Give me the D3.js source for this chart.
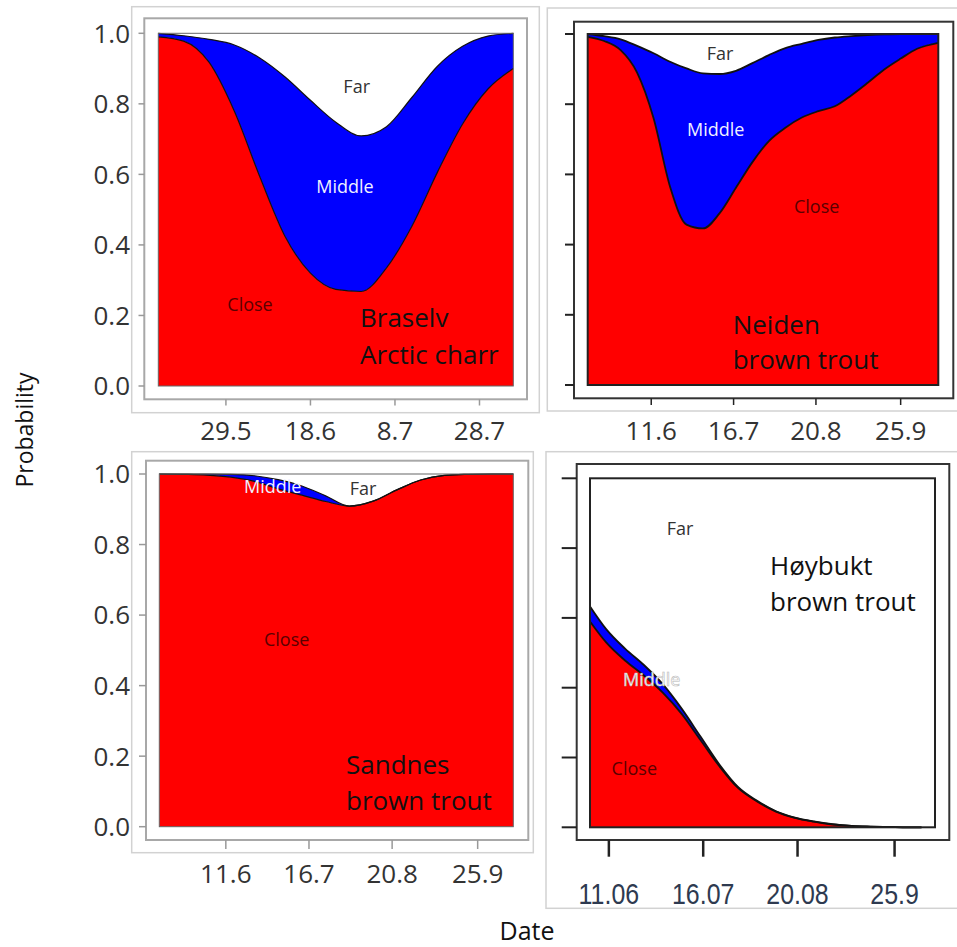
<!DOCTYPE html>
<meta charset="utf-8">
<script src="https://d3js.org/d3.v7.min.js"></script>
<style>
  body { margin: 0; background: #fff; }
  text { font-family: "Open Sans", sans-serif; }
</style>
<div id="chart"></div>
<script>
var braselvDays   = [133, 139, 145, 151, 157, 163, 169, 175, 181, 187, 193, 199, 205, 211, 217];
var braselvClose  = [0.99, 0.978, 0.918, 0.779, 0.594, 0.424, 0.32, 0.274, 0.268, 0.335, 0.453, 0.605, 0.743, 0.842, 0.90];
var braselvMiddle = [0.01, 0.015, 0.065, 0.188, 0.336, 0.452, 0.49, 0.474, 0.441, 0.40, 0.365, 0.301, 0.22, 0.15, 0.10];
var braselvTicks  = [149, 169, 189, 209];
var braselvLabels = ["29.5", "18.6", "8.7", "28.7"];

var neidenDays   = [135, 142, 149, 156, 163, 170, 177, 184, 191, 198, 205, 212, 219, 226, 233, 240, 247, 254, 261, 268, 275, 284];
var neidenClose  = [0.992, 0.98, 0.954, 0.89, 0.76, 0.565, 0.457, 0.446, 0.489, 0.562, 0.635, 0.695, 0.733, 0.762, 0.78, 0.794, 0.825, 0.861, 0.899, 0.93, 0.958, 0.975];
var neidenMiddle = [0.008, 0.014, 0.031, 0.076, 0.185, 0.356, 0.445, 0.442, 0.397, 0.333, 0.282, 0.245, 0.227, 0.21, 0.203, 0.196, 0.169, 0.136, 0.10, 0.07, 0.042, 0.025];

var sandnesDays   = [134, 144, 154, 164, 174, 184, 194, 204, 214, 224, 234, 244, 254, 264, 274, 283];
var sandnesClose  = [1.0, 0.999, 0.997, 0.991, 0.979, 0.958, 0.94, 0.922, 0.909, 0.923, 0.955, 0.983, 0.996, 0.999, 1.0, 1.0];
var sandnesMiddle = [0, 0.001, 0.003, 0.008, 0.016, 0.026, 0.026, 0.016, 0, 0, 0, 0, 0, 0, 0, 0];

var hoybuktDays   = [155, 161, 168, 175, 182, 189, 196, 203, 210, 217, 224, 231, 238, 245, 252, 259, 266, 273, 278];
var hoybuktClose  = [0.59, 0.53, 0.478, 0.435, 0.386, 0.325, 0.25, 0.175, 0.112, 0.074, 0.045, 0.027, 0.016, 0.008, 0.004, 0.002, 0.001, 0, 0];
var hoybuktMiddle = [0.043, 0.038, 0.034, 0.03, 0.024, 0.015, 0.01, 0.005, 0.003, 0.002, 0.001, 0.001, 0.001, 0.001, 0, 0, 0, 0, 0];

var troutTicks  = [162, 197, 232, 268];
var troutLabels = ["11.6", "16.7", "20.8", "25.9"];
var hoybuktLabels = ["11.06", "16.07", "20.08", "25.9"];
var yTicks = [0, 0.2, 0.4, 0.6, 0.8, 1.0];

var width = 957, height = 947;
var svg = d3.select("#chart").append("svg").attr("width", width).attr("height", height);

function rows(days, close, middle) {
  return days.map(function(d, i) { return {day: d, close: close[i], middle: middle[i]}; });
}

var panels = [
  {data: rows(braselvDays, braselvClose, braselvMiddle), xd: [133, 217], xr: [158.3, 513.3], yr: [386, 33.3],
   ticks: braselvTicks, labels: braselvLabels, style: "light", yLabels: true,
   outer: [131.7, 6.7, 539.3, 412.7], box: [144.3, 18.3, 527, 399.3], tickY: [399.3, 405.5], tickX: [138.5, 144.3], labelY: 440,
   notes: [["Far", 356.7, 93, "#333"], ["Middle", 345, 193, "#f0f0ff"], ["Close", 250, 311, "#5a0000"]],
   title: ["Braselv", "Arctic charr"], titleX: 360, titleY: [327, 364]},
  {data: rows(neidenDays, neidenClose, neidenMiddle), xd: [135, 284], xr: [587.7, 938.3], yr: [385, 34],
   ticks: troutTicks, labels: troutLabels, style: "dark", yLabels: false,
   outer: [547.3, 8, 965, 411], box: [574, 21.7, 953.3, 398.3], tickY: [398.3, 405], tickX: [565, 574], labelY: 440,
   notes: [["Far", 720, 59.5, "#333"], ["Middle", 715.7, 136, "#f0f0ff"], ["Close", 816.7, 213, "#5a0000"]],
   title: ["Neiden", "brown trout"], titleX: 732.7, titleY: [333.5, 368.5]},
  {data: rows(sandnesDays, sandnesClose, sandnesMiddle), xd: [134, 283], xr: [159.3, 513.3], yr: [826.7, 474],
   ticks: troutTicks, labels: troutLabels, style: "light", yLabels: true,
   outer: [131.7, 451.7, 533.3, 852.7], box: [146, 460.7, 528.3, 840], tickY: [840, 849], tickX: [139, 146], labelY: 883,
   notes: [["Middle", 272.7, 493, "#f0f0ff"], ["Far", 363, 495, "#333"], ["Close", 286.7, 646, "#5a0000"]],
   title: ["Sandnes", "brown trout"], titleX: 346, titleY: [773.5, 810]},
  {data: rows(hoybuktDays, hoybuktClose, hoybuktMiddle), xd: [155, 283], xr: [590, 935], yr: [827.3, 478.3],
   ticks: troutTicks, labels: hoybuktLabels, style: "dark", yLabels: false, narrow: true,
   outer: [546, 451.7, 965, 908.3], box: [576.7, 464, 949.3, 840], tickY: [840, 856.7], tickX: [561.7, 576.7], labelY: 904,
   notes: [["Far", 680, 534.5, "#333"], ["Middle", 651.7, 685.5, "#ffffff", true], ["Close", 634.3, 774.5, "#5a0000"]],
   title: ["Høybukt", "brown trout"], titleX: 770, titleY: [575, 611]}
];

var stack = d3.stack().keys(["close", "middle"]);
var colors = {close: "#ff0000", middle: "#0000ff"};

panels.forEach(function(p) {
  var g = svg.append("g");
  var x = d3.scaleLinear().domain(p.xd).range(p.xr);
  var y = d3.scaleLinear().domain([0, 1]).range(p.yr);
  var dark = p.style === "dark";

  // frames
  g.append("rect").attr("x", p.outer[0]).attr("y", p.outer[1])
    .attr("width", p.outer[2] - p.outer[0]).attr("height", p.outer[3] - p.outer[1])
    .attr("fill", "none").attr("stroke", "#d2d2d2").attr("stroke-width", 1.5);
  g.append("rect").attr("x", p.box[0]).attr("y", p.box[1])
    .attr("width", p.box[2] - p.box[0]).attr("height", p.box[3] - p.box[1])
    .attr("fill", "#fff").attr("stroke", dark ? "#333" : "#a8a8a8").attr("stroke-width", 2);

  var series = stack(p.data);
  var area = d3.area().curve(d3.curveMonotoneX)
    .x(function(d) { return x(d.data.day); })
    .y0(function(d) { return y(d[0]); })
    .y1(function(d) { return y(d[1]); });
  g.selectAll(".layer").data(series).enter().append("path")
    .attr("d", area)
    .attr("fill", function(s) { return colors[s.key]; });

  var line = d3.line().curve(d3.curveMonotoneX)
    .x(function(d) { return x(d.data.day); })
    .y(function(d) { return y(d[1]); });
  g.selectAll(".edge").data(series).enter().append("path")
    .attr("d", line)
    .attr("fill", "none").attr("stroke", "#111").attr("stroke-width", dark ? 1.8 : 1.2);

  // data box
  g.append("rect").attr("x", p.xr[0]).attr("y", p.yr[1])
    .attr("width", p.xr[1] - p.xr[0]).attr("height", p.yr[0] - p.yr[1])
    .attr("fill", "none").attr("stroke", dark ? "#222" : "#666").attr("stroke-width", dark ? 2 : 1);

  // y ticks
  g.selectAll(".yt").data(yTicks).enter().append("line")
    .attr("x1", p.tickX[0]).attr("x2", p.tickX[1])
    .attr("y1", function(d) { return y(d); }).attr("y2", function(d) { return y(d); })
    .attr("stroke", dark ? "#222" : "#999").attr("stroke-width", dark ? 2 : 1.5);
  if (p.yLabels) {
    g.selectAll(".yl").data(yTicks).enter().append("text")
      .attr("x", 130).attr("y", function(d) { return y(d); }).attr("dy", "0.36em")
      .attr("text-anchor", "end").attr("font-size", 26).attr("fill", "#333")
      .text(function(d) { return d3.format(".1f")(d); });
  }

  // x ticks
  g.selectAll(".xt").data(p.ticks).enter().append("line")
    .attr("x1", function(d) { return x(d); }).attr("x2", function(d) { return x(d); })
    .attr("y1", p.tickY[0]).attr("y2", p.tickY[1])
    .attr("stroke", dark ? "#222" : "#999").attr("stroke-width", p.narrow ? 2.5 : 1.5);
  g.selectAll(".xl").data(p.ticks).enter().append("text")
    .attr("transform", function(d) {
      return "translate(" + x(d) + "," + p.labelY + ")" + (p.narrow ? " scale(0.86,1)" : "");
    })
    .attr("text-anchor", "middle")
    .attr("font-size", p.narrow ? 29 : 26)
    .attr("fill", p.narrow ? "#2e3a50" : "#333")
    .style("font-family", p.narrow ? "'Liberation Sans', Arial, sans-serif" : null)
    .text(function(d, i) { return p.labels[i]; });

  // region notes
  g.selectAll(".note").data(p.notes).enter().append("text")
    .attr("x", function(d) { return d[1]; }).attr("y", function(d) { return d[2]; })
    .attr("text-anchor", "middle").attr("font-size", 18)
    .attr("fill", function(d) { return d[3]; })
    .attr("stroke", function(d) { return d[4] ? "#b8b8b8" : "none"; })
    .attr("stroke-width", 0.6)
    .text(function(d) { return d[0]; });

  // site / species title
  g.selectAll(".title").data(p.title).enter().append("text")
    .attr("x", p.titleX).attr("y", function(d, i) { return p.titleY[i]; })
    .attr("font-size", 26).attr("fill", "#111")
    .text(function(d) { return d; });
});

svg.append("text")
  .attr("transform", "translate(25,430) rotate(-90)")
  .attr("dy", "0.35em")
  .attr("text-anchor", "middle").attr("font-size", 23).attr("fill", "#111")
  .text("Probability");
svg.append("text")
  .attr("x", 527).attr("y", 940)
  .attr("text-anchor", "middle").attr("font-size", 25).attr("fill", "#111")
  .text("Date");
</script>
